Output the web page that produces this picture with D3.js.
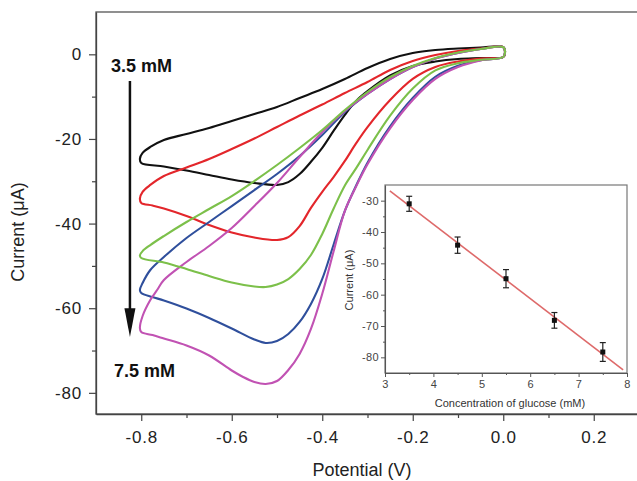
<!DOCTYPE html>
<html>
<head>
<meta charset="utf-8">
<script src="https://cdn.jsdelivr.net/npm/d3@7"></script>
<style>
  body { margin: 0; background: #fff; }
  svg { display: block; font-family: "Liberation Sans", Arial, sans-serif; }
</style>
</head>
<body>
<svg id="chart" width="637" height="481"></svg>
<script>
// glucose concentrations (mM) and their CV colours
const concentrations = [3.5, 4.5, 5.5, 6.5, 7.5];
const curveColors = ['#111111', '#e3262b', '#7cc04a', '#2f4f9c', '#c152b3'];

// cyclic voltammograms: [potential V, current uA]
// lower branch 0 -> -0.8 V, turn, upper branch -0.8 -> 0 V
const cv35 = [[0,-0.64],[-0.05,-0.87],[-0.1,-1.1],[-0.15,-1.7],[-0.2,-2.76],[-0.25,-5.0],[-0.3,-8.7],
  [-0.325,-11.0],[-0.35,-14.3],[-0.375,-18.1],[-0.4,-22.1],[-0.425,-25.4],[-0.45,-28.3],[-0.475,-30.2],
  [-0.5,-30.88],[-0.55,-30.41],[-0.6,-29.58],[-0.65,-28.52],[-0.7,-27.46],[-0.75,-26.51],[-0.8,-25.68],
  [-0.803,-24.7],
  [-0.797,-23.3],[-0.78,-21.9],[-0.75,-20.25],[-0.7,-18.83],[-0.65,-17.41],[-0.6,-15.76],[-0.55,-14.1],
  [-0.5,-12.45],[-0.45,-10.32],[-0.4,-8.2],[-0.35,-5.83],[-0.3,-3.24],[-0.25,-1.11],[-0.2,0.31],
  [-0.15,1.02],[-0.1,1.37],[-0.05,1.61],[0,1.72],[0.004,0.55]];

const cv45 = [[0,-0.64],[-0.05,-1.0],[-0.1,-1.7],[-0.15,-3.0],[-0.2,-5.8],[-0.25,-10.8],[-0.3,-17.2],
  [-0.325,-21.0],[-0.35,-25.2],[-0.375,-29.0],[-0.4,-32.5],[-0.425,-36.3],[-0.45,-40.6],[-0.475,-43.2],
  [-0.5,-43.88],[-0.55,-43.29],[-0.6,-42.11],[-0.65,-40.34],[-0.7,-38.21],[-0.75,-36.44],[-0.775,-35.73],
  [-0.8,-35.12],
  [-0.803,-34.1],
  [-0.797,-32.5],[-0.78,-30.87],[-0.75,-28.76],[-0.7,-26.75],[-0.65,-24.74],[-0.6,-22.38],[-0.55,-19.9],
  [-0.5,-17.18],[-0.45,-14.46],[-0.4,-11.86],[-0.35,-9.14],[-0.3,-6.55],[-0.25,-3.71],[-0.2,-1.58],
  [-0.15,-0.17],[-0.1,0.78],[-0.05,1.37],[0,1.72],[0.004,0.55]];

const cv55 = [[0,-0.64],[-0.05,-1.3],[-0.1,-2.1],[-0.15,-3.8],[-0.2,-8.1],[-0.25,-14.5],[-0.3,-22.6],
  [-0.325,-26.9],[-0.35,-31.0],[-0.375,-36.5],[-0.4,-42.46],[-0.425,-47.42],[-0.45,-50.73],[-0.475,-53.1],
  [-0.5,-54.4],[-0.525,-54.99],[-0.55,-54.87],[-0.6,-53.92],[-0.65,-52.39],[-0.7,-50.73],[-0.75,-49.2],
  [-0.8,-48.14],
  [-0.803,-47.5],
  [-0.797,-46.5],[-0.78,-45.07],[-0.75,-42.94],[-0.7,-39.63],[-0.65,-36.56],[-0.6,-33.49],[-0.55,-29.94],
  [-0.5,-26.16],[-0.45,-22.14],[-0.4,-17.89],[-0.35,-13.16],[-0.3,-8.91],[-0.25,-5.36],[-0.2,-2.76],
  [-0.15,-0.87],[-0.1,0.43],[-0.05,1.25],[0,1.72],[0.004,0.55]];

const cv65 = [[0,-0.64],[-0.05,-1.4],[-0.1,-2.7],[-0.15,-5.3],[-0.2,-10.3],[-0.25,-17.0],[-0.3,-25.6],
  [-0.325,-31.0],[-0.35,-37.0],[-0.375,-45.0],[-0.4,-53.08],[-0.425,-58.99],[-0.45,-63.25],[-0.475,-66.09],
  [-0.5,-67.75],[-0.525,-68.22],[-0.55,-67.39],[-0.6,-64.8],[-0.65,-62.31],[-0.7,-60.07],[-0.75,-58.18],
  [-0.775,-57.35],[-0.8,-56.4],
  [-0.803,-55.7],
  [-0.797,-54.04],[-0.78,-50.97],[-0.75,-47.9],[-0.7,-43.41],[-0.65,-39.63],[-0.6,-35.85],[-0.55,-32.07],
  [-0.5,-28.28],[-0.45,-24.03],[-0.4,-19.07],[-0.35,-13.63],[-0.3,-9.38],[-0.25,-5.84],[-0.2,-3.0],
  [-0.15,-0.99],[-0.1,0.31],[-0.05,1.25],[0,1.72],[0.004,0.55]];

const cv75 = [[0,-0.64],[-0.05,-1.45],[-0.1,-3.0],[-0.15,-5.8],[-0.2,-10.8],[-0.25,-17.5],[-0.3,-26.0],
  [-0.325,-31.2],[-0.35,-37.0],[-0.375,-46.6],[-0.4,-56.6],[-0.425,-64.9],[-0.45,-70.8],[-0.475,-74.6],
  [-0.5,-77.2],[-0.525,-77.91],[-0.55,-77.43],[-0.575,-76.25],[-0.6,-74.72],[-0.65,-71.17],[-0.7,-68.81],
  [-0.75,-67.16],[-0.775,-66.35],[-0.8,-65.64],
  [-0.803,-64.67],
  [-0.797,-61.84],[-0.78,-58.06],[-0.765,-55.7],[-0.75,-53.33],[-0.7,-49.08],[-0.65,-45.3],[-0.6,-41.05],
  [-0.55,-35.85],[-0.5,-30.41],[-0.45,-24.27],[-0.4,-18.36],[-0.35,-13.4],[-0.3,-9.38],[-0.25,-5.84],
  [-0.2,-3.0],[-0.15,-0.99],[-0.1,0.31],[-0.05,1.25],[0,1.72],[0.004,0.55]];

// inset: peak current vs concentration
const peakCurrent = [-31, -44.2, -54.9, -68.2, -78.3];
const peakError = [2.4, 2.6, 2.9, 2.5, 3.0];
const fitRange = [3.1, 7.92];

// tick values
const potentialTicks = [-0.8, -0.6, -0.4, -0.2, 0, 0.2];
const potentialMinor = [-0.7, -0.5, -0.3, -0.1, 0.1];
const currentTicks = [0, -20, -40, -60, -80];
const currentMinor = [-10, -30, -50, -70];
const concTicks = [3, 4, 5, 6, 7, 8];
const concMinor = [3.5, 4.5, 5.5, 6.5, 7.5];
const insetTicks = [-30, -40, -50, -60, -70, -80];
const insetMinor = [-35, -45, -55, -65, -75];

const svg = d3.select('#chart');
const axisColor = '#444';

// main scales
const x = d3.scaleLinear().domain([-0.9, 0.3]).range([96, 639]);
const y = d3.scaleLinear().domain([-85, 10]).range([414, 12]);

function styleAxis(g, fontSize, spacing) {
  g.select('.domain').attr('stroke', axisColor).attr('stroke-width', 1.3);
  g.selectAll('.tick line').attr('stroke', axisColor).attr('stroke-width', 1.2);
  g.selectAll('.tick text').attr('fill', '#222').style('font-size', fontSize + 'px')
    .style('letter-spacing', spacing + 'px');
}

// frame (top and right edges)
svg.append('rect')
  .attr('x', x(-0.9)).attr('y', y(10))
  .attr('width', x(0.3) - x(-0.9)).attr('height', y(-85) - y(10))
  .attr('fill', 'none').attr('stroke', '#555').attr('stroke-width', 1.3);

// minor ticks
svg.append('g').attr('transform', `translate(0,${y(-85)})`)
  .call(d3.axisBottom(x).tickValues(potentialMinor).tickSize(4).tickFormat(''))
  .call(g => g.select('.domain').remove())
  .call(g => g.selectAll('line').attr('stroke', axisColor).attr('stroke-width', 1.2));
svg.append('g').attr('transform', `translate(${x(-0.9)},0)`)
  .call(d3.axisLeft(y).tickValues(currentMinor).tickSize(4).tickFormat(''))
  .call(g => g.select('.domain').remove())
  .call(g => g.selectAll('line').attr('stroke', axisColor).attr('stroke-width', 1.2));

// major axes
svg.append('g').attr('transform', `translate(0,${y(-85)})`)
  .call(d3.axisBottom(x).tickValues(potentialTicks).tickSize(7).tickSizeOuter(0)
    .tickPadding(10).tickFormat(d => d.toFixed(1)))
  .call(g => styleAxis(g, 17, 0.8));
svg.append('g').attr('transform', `translate(${x(-0.9)},0)`)
  .call(d3.axisLeft(y).tickValues(currentTicks).tickSize(7).tickSizeOuter(0)
    .tickPadding(7).tickFormat(d => String(d)))
  .call(g => styleAxis(g, 17, 0.8));

// axis titles
svg.append('text').attr('x', 362).attr('y', 476).attr('text-anchor', 'middle')
  .attr('fill', '#222').style('font-size', '18px').text('Potential (V)');
svg.append('text').attr('transform', 'translate(24,232) rotate(-90)').attr('text-anchor', 'middle')
  .attr('fill', '#222').style('font-size', '18px').text('Current (μA)');

// CV curves (green drawn last, it sits on top in the original)
const cvLine = d3.line().x(d => x(d[0])).y(d => y(d[1])).curve(d3.curveCatmullRomClosed.alpha(0.5));
const curves = [cv35, cv45, cv65, cv75, cv55];
const curveIdx = [0, 1, 3, 4, 2];
svg.append('g').selectAll('path')
  .data(curves)
  .join('path')
  .attr('d', cvLine)
  .attr('fill', 'none')
  .attr('stroke', (d, i) => curveColors[curveIdx[i]])
  .attr('stroke-width', 2.1)
  .attr('stroke-linejoin', 'round');

// concentration arrow and labels
const arrowV = -0.825;
svg.append('line')
  .attr('x1', x(arrowV)).attr('x2', x(arrowV))
  .attr('y1', y(-6.3)).attr('y2', y(-60.5))
  .attr('stroke', '#111').attr('stroke-width', 2.5);
svg.append('path')
  .attr('d', `M${x(arrowV) - 5.5},${y(-60)} L${x(arrowV) + 5.5},${y(-60)} L${x(arrowV)},${y(-66.8)} Z`)
  .attr('fill', '#111');
svg.append('text').attr('x', 111).attr('y', 72).attr('fill', '#111')
  .style('font-size', '18px').style('font-weight', 'bold').text(concentrations[0] + ' mM');
svg.append('text').attr('x', 114).attr('y', 377).attr('fill', '#111')
  .style('font-size', '18px').style('font-weight', 'bold').text(concentrations[4] + ' mM');

// inset
const xi = d3.scaleLinear().domain([3, 8]).range([385, 627]);
const yi = d3.scaleLinear().domain([-85, -25]).range([373, 185]);
const inset = svg.append('g');
inset.append('rect')
  .attr('x', xi(3)).attr('y', yi(-25))
  .attr('width', xi(8) - xi(3)).attr('height', yi(-85) - yi(-25))
  .attr('fill', '#fff').attr('stroke', '#777').attr('stroke-width', 1.2);

function styleInset(g) {
  g.select('.domain').attr('stroke', '#555').attr('stroke-width', 1.1);
  g.selectAll('.tick line').attr('stroke', '#555');
  g.selectAll('.tick text').attr('fill', '#444').style('font-size', '11px').style('letter-spacing', '0.4px');
}
inset.append('g').attr('transform', `translate(0,${yi(-85)})`)
  .call(d3.axisBottom(xi).tickValues(concMinor).tickSize(2).tickFormat(''))
  .call(g => g.select('.domain').remove()).call(styleInset);
inset.append('g').attr('transform', `translate(${xi(3)},0)`)
  .call(d3.axisLeft(yi).tickValues(insetMinor).tickSize(2).tickFormat(''))
  .call(g => g.select('.domain').remove()).call(styleInset);
inset.append('g').attr('transform', `translate(0,${yi(-85)})`)
  .call(d3.axisBottom(xi).tickValues(concTicks).tickSize(4).tickSizeOuter(0).tickPadding(3)
    .tickFormat(d => String(d)))
  .call(styleInset);
inset.append('g').attr('transform', `translate(${xi(3)},0)`)
  .call(d3.axisLeft(yi).tickValues(insetTicks).tickSize(4).tickSizeOuter(0).tickPadding(2)
    .tickFormat(d => String(d)))
  .call(styleInset);

inset.append('text').attr('x', 510).attr('y', 407).attr('text-anchor', 'middle')
  .attr('fill', '#333').style('font-size', '11px').text('Concentration of glucose (mM)');
inset.append('text').attr('transform', 'translate(353,280) rotate(-90)').attr('text-anchor', 'middle')
  .attr('fill', '#333').style('font-size', '11px').text('Current  (μA)');

// linear fit through the points
const pts = concentrations.map((c, i) => [c, peakCurrent[i]]);
const mx = d3.mean(concentrations), my = d3.mean(peakCurrent);
const slope = d3.sum(pts, p => (p[0] - mx) * (p[1] - my)) / d3.sum(pts, p => (p[0] - mx) ** 2);
const icpt = my - slope * mx;
inset.append('path')
  .datum(fitRange.map(c => [c, icpt + slope * c]))
  .attr('d', d3.line().x(d => xi(d[0])).y(d => yi(d[1])))
  .attr('stroke', '#de6a6a').attr('stroke-width', 1.6).attr('fill', 'none');

// error bars and points
const eb = inset.append('g').attr('stroke', '#222').attr('stroke-width', 1.2);
pts.forEach((p, i) => {
  const cx = xi(p[0]);
  const top = yi(p[1] + peakError[i]), bot = yi(p[1] - peakError[i]);
  eb.append('line').attr('x1', cx).attr('x2', cx).attr('y1', top).attr('y2', bot);
  eb.append('line').attr('x1', cx - 3).attr('x2', cx + 3).attr('y1', top).attr('y2', top);
  eb.append('line').attr('x1', cx - 3).attr('x2', cx + 3).attr('y1', bot).attr('y2', bot);
});
inset.append('g').selectAll('rect')
  .data(pts)
  .join('rect')
  .attr('x', d => xi(d[0]) - 2.5).attr('y', d => yi(d[1]) - 2.5)
  .attr('width', 5).attr('height', 5)
  .attr('fill', '#111');
</script>
</body>
</html>
